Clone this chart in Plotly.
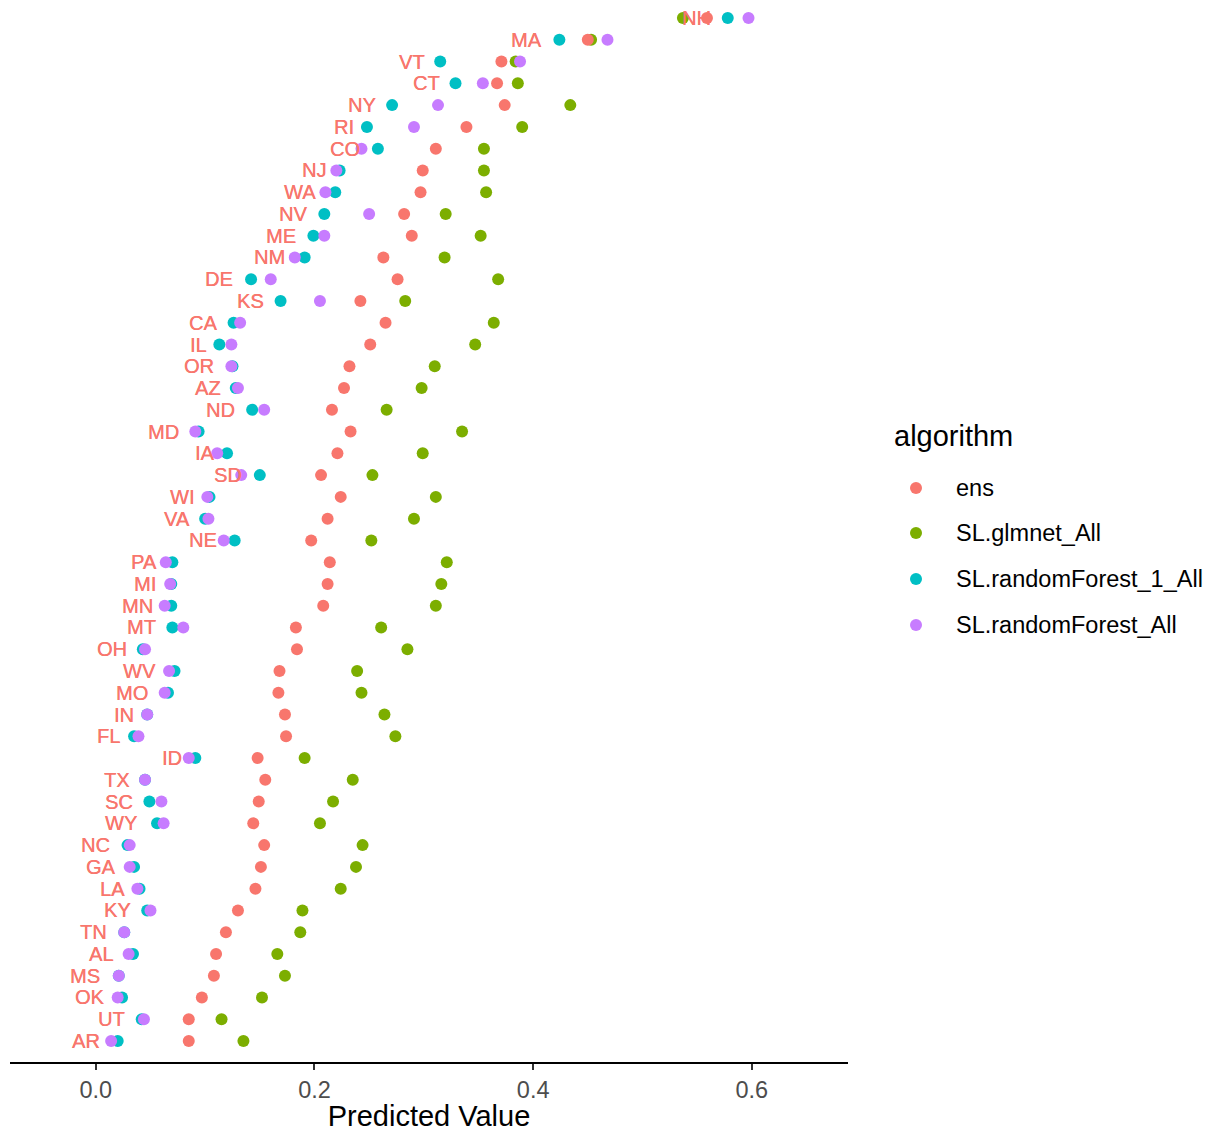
import plotly.graph_objects as go

# ---- data (top row to bottom row) ----
states = ["NH", "MA", "VT", "CT", "NY", "RI", "CO", "NJ", "WA", "NV", "ME", "NM",
          "DE", "KS", "CA", "IL", "OR", "AZ", "ND", "MD", "IA", "SD", "WI", "VA",
          "NE", "PA", "MI", "MN", "MT", "OH", "WV", "MO", "IN", "FL", "ID", "TX",
          "SC", "WY", "NC", "GA", "LA", "KY", "TN", "AL", "MS", "OK", "UT", "AR"]

ens = [0.559, 0.450, 0.371, 0.367, 0.374, 0.339, 0.311, 0.299, 0.297, 0.282, 0.289, 0.263,
       0.276, 0.242, 0.265, 0.251, 0.232, 0.227, 0.216, 0.233, 0.221, 0.206, 0.224, 0.212,
       0.197, 0.214, 0.212, 0.208, 0.183, 0.184, 0.168, 0.167, 0.173, 0.174, 0.148, 0.155,
       0.149, 0.144, 0.154, 0.151, 0.146, 0.130, 0.119, 0.110, 0.108, 0.097, 0.085, 0.085]

glmnet_all = [0.537, 0.453, 0.384, 0.386, 0.434, 0.390, 0.355, 0.355, 0.357, 0.320, 0.352, 0.319,
              0.368, 0.283, 0.364, 0.347, 0.310, 0.298, 0.266, 0.335, 0.299, 0.253, 0.311, 0.291,
              0.252, 0.321, 0.316, 0.311, 0.261, 0.285, 0.239, 0.243, 0.264, 0.274, 0.191, 0.235,
              0.217, 0.205, 0.244, 0.238, 0.224, 0.189, 0.187, 0.166, 0.173, 0.152, 0.115, 0.135]

rf_1_all = [0.578, 0.424, 0.315, 0.329, 0.271, 0.248, 0.258, 0.223, 0.219, 0.209, 0.199, 0.191,
            0.142, 0.169, 0.126, 0.113, 0.125, 0.128, 0.143, 0.094, 0.120, 0.150, 0.104, 0.100,
            0.127, 0.070, 0.069, 0.069, 0.070, 0.043, 0.072, 0.066, 0.047, 0.035, 0.091, 0.045,
            0.049, 0.056, 0.029, 0.035, 0.040, 0.047, 0.026, 0.034, 0.021, 0.024, 0.042, 0.020]

rf_all = [0.597, 0.468, 0.388, 0.354, 0.313, 0.291, 0.243, 0.220, 0.210, 0.250, 0.209, 0.182,
          0.160, 0.205, 0.132, 0.124, 0.124, 0.130, 0.154, 0.091, 0.111, 0.133, 0.102, 0.103,
          0.117, 0.064, 0.068, 0.063, 0.080, 0.045, 0.067, 0.063, 0.047, 0.039, 0.085, 0.045,
          0.060, 0.062, 0.031, 0.031, 0.038, 0.050, 0.026, 0.030, 0.021, 0.020, 0.044, 0.014]

# text label anchor (right end of each state label), in predicted-value units
label_pos = [0.5635, 0.409, 0.302, 0.316, 0.257, 0.237, 0.243, 0.211, 0.202, 0.194, 0.184, 0.174,
             0.126, 0.155, 0.112, 0.103, 0.109, 0.115, 0.128, 0.077, 0.110, 0.135, 0.091, 0.087,
             0.112, 0.057, 0.056, 0.053, 0.056, 0.029, 0.056, 0.049, 0.036, 0.023, 0.080, 0.032,
             0.035, 0.039, 0.014, 0.019, 0.028, 0.033, 0.011, 0.017, 0.005, 0.009, 0.028, 0.005]

algorithms = ["ens", "SL.glmnet_All", "SL.randomForest_1_All", "SL.randomForest_All"]
x_ticks = [0.0, 0.2, 0.4, 0.6]
x_tick_labels = ["0.0", "0.2", "0.4", "0.6"]

# ---- styling ----
FONT = "Liberation Sans, Arial, sans-serif"
colors = {"ens": "#F8766D", "SL.glmnet_All": "#7CAE00",
          "SL.randomForest_1_All": "#00BFC4", "SL.randomForest_All": "#C77CFF"}
series = {"ens": ens, "SL.glmnet_All": glmnet_all,
          "SL.randomForest_1_All": rf_1_all, "SL.randomForest_All": rf_all}

n = len(states)
ypos = [n - 1 - i for i in range(n)]

W, H = 1213, 1132
ML, MR, MT, MB = 10, 365, 0, 70
PW, PH = W - ML - MR, H - MT - MB

fig = go.Figure()
draw_order = ["SL.glmnet_All", "SL.randomForest_1_All", "SL.randomForest_All", "ens"]
for alg in draw_order:
    fig.add_trace(go.Scatter(
        x=series[alg], y=ypos, mode="markers", name=alg, showlegend=False,
        marker=dict(color=colors[alg], size=12, line=dict(width=0)),
        text=states, hovertemplate="%{text}: %{x:.3f}<extra>" + alg + "</extra>",
    ))

annotations = []
for i, s in enumerate(states):
    annotations.append(dict(
        x=label_pos[i], y=ypos[i], xref="x", yref="y", text=s, showarrow=False,
        xanchor="right", yanchor="middle", borderpad=0,
        font=dict(family=FONT, size=20, color="#F8766D",
                  shadow="0.3px 0px 0px #F8766D"),
    ))

def px_x(p):
    return (p - ML) / PW

def px_y(q):
    return (MT + PH - q) / PH

shapes = []
# manual legend
annotations.append(dict(
    x=px_x(893), y=px_y(436), xref="paper", yref="paper", text="algorithm",
    showarrow=False, xanchor="left", yanchor="middle", borderpad=0,
    font=dict(family=FONT, size=29, color="black"),
))
legend_y = [488, 533, 579, 625]
for alg, ly in zip(algorithms, legend_y):
    shapes.append(dict(
        type="circle", xref="paper", yref="paper",
        xsizemode="pixel", ysizemode="pixel",
        xanchor=px_x(916), yanchor=px_y(ly),
        x0=-6, x1=6, y0=-6, y1=6,
        fillcolor=colors[alg], line=dict(width=0),
    ))
    annotations.append(dict(
        x=px_x(955), y=px_y(ly), xref="paper", yref="paper", text=alg,
        showarrow=False, xanchor="left", yanchor="middle", borderpad=0,
        font=dict(family=FONT, size=23.5, color="black"),
    ))

fig.update_layout(
    width=W, height=H,
    margin=dict(l=ML, r=MR, t=MT, b=MB, pad=0),
    paper_bgcolor="white", plot_bgcolor="white",
    font=dict(family=FONT, color="black"),
    showlegend=False,
    annotations=annotations,
    shapes=shapes,
    xaxis=dict(
        range=[-0.0785, 0.688], showgrid=False, zeroline=False,
        showline=True, linecolor="black", linewidth=2,
        ticks="outside", ticklen=6, tickwidth=2, tickcolor="#333333",
        tickvals=x_ticks, ticktext=x_tick_labels,
        tickfont=dict(family=FONT, size=23.5, color="#4D4D4D"),
        title=dict(text="Predicted Value", font=dict(family=FONT, size=29, color="black"), standoff=6),
    ),
    yaxis=dict(range=[-0.965, 47.83], visible=False, showgrid=False, zeroline=False),
)

fig.write_html("out.html")
